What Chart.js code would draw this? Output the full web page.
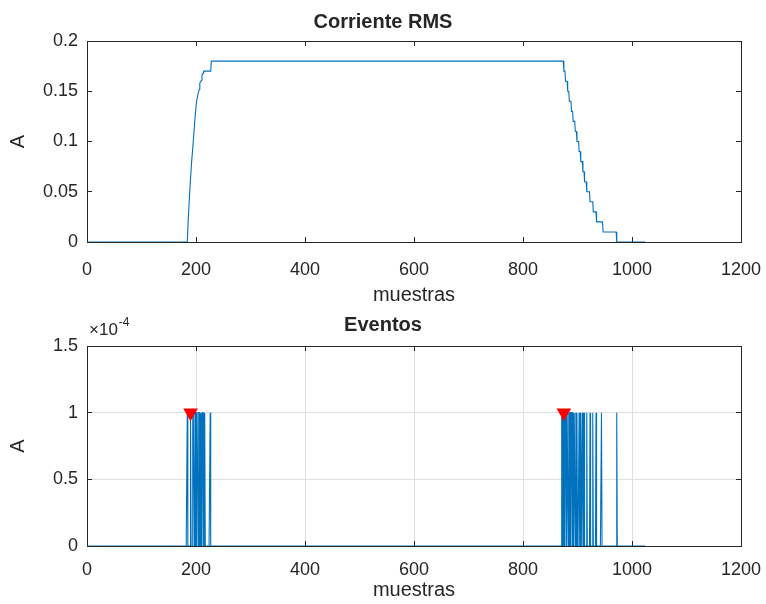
<!DOCTYPE html>
<html>
<head>
<meta charset="utf-8">
<script src="https://cdn.jsdelivr.net/npm/chart.js@4.4.1/dist/chart.umd.min.js"></script>
<style>
  html, body { margin: 0; padding: 0; background: #fff; }
  #wrap { position: relative; width: 766px; height: 604px; }
  canvas { position: absolute; left: 0; }
  #rmsChart { top: 0; }
  #eventsChart { top: 310px; }
</style>
</head>
<body>
<div id="wrap">
  <canvas id="rmsChart" width="766" height="310"></canvas>
  <canvas id="eventsChart" width="766" height="294"></canvas>
</div>
<script>
const FONT = 'Arial, "Liberation Sans", Helvetica, sans-serif';
const INK = '#262626';
const BLUE = '#0072bd';
const GRID = '#dfdfdf';

// corriente RMS: puntos de cambio (muestra, A)
const rmsSamples = [0, 184, 186, 189, 192, 195, 198, 201, 204, 206, 207, 210, 211, 213, 214, 227, 228, 874,
  875, 877, 878, 881, 882, 884, 885, 888, 889, 891, 892, 895, 896, 898, 899, 902, 903, 905, 906, 909,
  910, 912, 913, 916, 917, 922, 923, 928, 929, 934, 935, 946, 947, 971, 972, 1024];
const rmsValues = [0, 0, 0.025, 0.055, 0.08, 0.1, 0.122, 0.14, 0.148, 0.152, 0.158, 0.161, 0.166, 0.168, 0.17, 0.17, 0.18, 0.18,
  0.17, 0.17, 0.16, 0.16, 0.15, 0.15, 0.14, 0.14, 0.13, 0.13, 0.12, 0.12, 0.11, 0.11, 0.10, 0.10, 0.09, 0.09, 0.08, 0.08,
  0.07, 0.07, 0.06, 0.06, 0.05, 0.05, 0.04, 0.04, 0.03, 0.03, 0.02, 0.02, 0.01, 0.01, 0, 0];

// muestras con evento detectado
const eventSamples = [184, 190, 194, 195, 196, 198, 199, 201, 202, 203, 205, 206, 208, 210, 212, 213, 216, 226,
  871, 873, 875, 876, 878, 879, 881, 882, 884, 886, 887, 889, 890, 892, 894, 895, 897, 899, 903, 906, 909, 912,
  917, 923, 928, 934, 944, 972];
const eventLevel = 1e-4;
const lastSample = 1024;
const markerSamples = [190, 875];

const xTicks = [0, 200, 400, 600, 800, 1000, 1200];
const rmsTicks = [0, 0.05, 0.1, 0.15, 0.2];
const eventTicks = [0, 0.5e-4, 1e-4, 1.5e-4];

const tickFont = { family: FONT, size: 18 };
const labelFont = { family: FONT, size: 20 };
const titleFont = { family: FONT, size: 20, weight: 'bold' };

const setTicks = list => scale => { scale.ticks = list.map(value => ({ value })); };
// tamaño fijo del eje, sin reservar margen para las etiquetas de los extremos
const fixSize = (prop, size) => scale => {
  scale[prop] = size;
  scale.paddingLeft = scale.paddingRight = scale.paddingTop = scale.paddingBottom = 0;
};

// ejes en caja con marcas hacia dentro, como en MATLAB
function boxAxes(cfg) {
  const lo = cfg.yTicks[0], hi = cfg.yTicks[cfg.yTicks.length - 1];
  const edgeless = (a, b) => ctx => (ctx.tick && (ctx.tick.value === a || ctx.tick.value === b)) ? 'rgba(0,0,0,0)' : GRID;
  const inner = { tickLength: -5, tickColor: INK, lineWidth: 1 };
  return {
    x: {
      type: 'linear', position: 'bottom', min: 0, max: 1200,
      afterBuildTicks: setTicks(xTicks),
      afterFit: fixSize('height', cfg.xHeight),
      grid: { ...inner, drawOnChartArea: cfg.grid, color: edgeless(0, 1200) },
      border: { color: INK, width: 1 },
      ticks: { color: INK, font: tickFont, padding: cfg.xPad, maxRotation: 0, autoSkip: false, callback: v => String(v) },
      title: { display: true, text: 'muestras', color: INK, font: labelFont, padding: { top: 0, bottom: cfg.xTitlePad } }
    },
    x2: {
      type: 'linear', position: 'top', min: 0, max: 1200,
      afterBuildTicks: setTicks(xTicks),
      afterFit: fixSize('height', 0),
      grid: { ...inner, drawOnChartArea: false },
      border: { color: INK, width: 1 },
      ticks: { display: false }
    },
    y: {
      type: 'linear', position: 'left', min: lo, max: hi,
      afterBuildTicks: setTicks(cfg.yTicks),
      afterFit: fixSize('width', 87),
      grid: { ...inner, drawOnChartArea: cfg.grid, color: edgeless(lo, hi) },
      border: { color: INK, width: 1 },
      ticks: { color: INK, font: tickFont, padding: 14, callback: cfg.fmt },
      title: { display: true, text: 'A', color: INK, font: labelFont, padding: { top: 6, bottom: 0 } }
    },
    y2: {
      type: 'linear', position: 'right', min: lo, max: hi,
      afterBuildTicks: setTicks(cfg.yTicks),
      afterFit: fixSize('width', 25),
      grid: { ...inner, drawOnChartArea: false },
      border: { color: INK, width: 1 },
      ticks: { display: false }
    }
  };
}

// etiqueta del exponente sobre el eje y
const exponentLabel = {
  id: 'exponentLabel',
  afterDraw(chart, args, opts) {
    if (!opts.text) return;
    const { ctx, chartArea } = chart;
    ctx.save();
    ctx.fillStyle = INK;
    ctx.textBaseline = 'alphabetic';
    ctx.font = `17px ${FONT}`;
    const x = chartArea.left + 2, y = chartArea.top - 11;
    ctx.fillText('\u00d710', x, y);
    const w = ctx.measureText('\u00d710').width;
    ctx.font = `12px ${FONT}`;
    ctx.fillText(opts.text, x + w + 1, y - 9);
    ctx.restore();
  }
};

const lineStyle = { borderColor: BLUE, borderWidth: 1.1, pointRadius: 0, tension: 0, fill: false };

new Chart(document.getElementById('rmsChart'), {
  type: 'line',
  data: {
    datasets: [{ ...lineStyle, data: rmsSamples.map((s, i) => ({ x: s, y: rmsValues[i] })) }]
  },
  options: {
    responsive: false, animation: false, events: [],
    layout: { padding: 0 },
    plugins: {
      legend: { display: false }, tooltip: { enabled: false },
      title: { display: true, text: 'Corriente RMS', color: INK, font: titleFont, padding: { top: 10, bottom: 7 } }
    },
    scales: boxAxes({ yTicks: rmsTicks, grid: false, xHeight: 68, xPad: 22, xTitlePad: 3, fmt: v => String(v) })
  }
});

const eventSet = new Set(eventSamples);
const eventPoints = [];
for (let s = 0; s <= lastSample; s++) eventPoints.push({ x: s, y: eventSet.has(s) ? eventLevel : 0 });

new Chart(document.getElementById('eventsChart'), {
  type: 'line',
  data: {
    datasets: [
      {
        data: markerSamples.map(s => ({ x: s, y: eventLevel })),
        showLine: false, pointStyle: 'triangle', rotation: 180, pointRadius: 8.5,
        backgroundColor: '#ff0000', borderColor: '#ff0000', borderWidth: 0
      },
      { ...lineStyle, data: eventPoints }
    ]
  },
  options: {
    responsive: false, animation: false, events: [],
    layout: { padding: 0 },
    plugins: {
      legend: { display: false }, tooltip: { enabled: false },
      title: { display: true, text: 'Eventos', color: INK, font: titleFont, padding: { top: 3, bottom: 9 } },
      exponentLabel: { text: '-4' }
    },
    scales: boxAxes({ yTicks: eventTicks, grid: true, xHeight: 58, xPad: 18, xTitlePad: 2,
      fmt: v => String(+(v / 1e-4).toFixed(1)) })
  },
  plugins: [exponentLabel]
});
</script>
</body>
</html>
